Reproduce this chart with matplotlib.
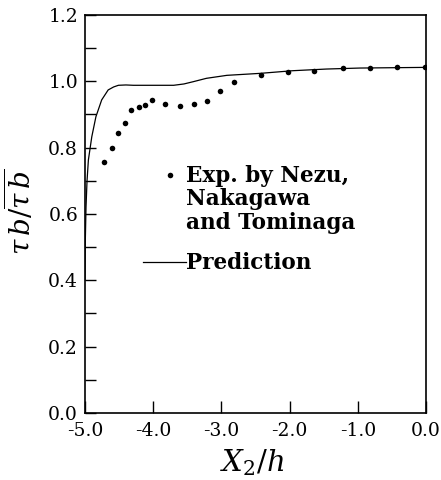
import matplotlib
matplotlib.use("Agg")
import matplotlib.pyplot as plt

plt.rcParams['font.family'] = ['DejaVu Serif']
plt.rcParams['mathtext.fontset'] = 'dejavuserif'

# Experimental data (Nezu, Nakagawa and Tominaga)
exp_x = [-4.717, -4.609, -4.516, -4.418, -4.321, -4.213, -4.116, -4.018,
         -3.822, -3.607, -3.406, -3.216, -3.02, -2.82, -2.424, -2.028,
         -1.638, -1.22, -0.825, -0.425, -0.01]
exp_y = [0.758, 0.798, 0.845, 0.874, 0.913, 0.922, 0.929, 0.944,
         0.932, 0.926, 0.931, 0.941, 0.970, 0.997, 1.018, 1.029,
         1.030, 1.039, 1.041, 1.043, 1.042]

# Prediction curve
pred_x = [-5.0, -4.995, -4.985, -4.97, -4.95, -4.90, -4.84, -4.755, -4.66,
          -4.58, -4.51, -4.40, -4.29, -4.10, -3.90, -3.70, -3.55, -3.41,
          -3.22, -2.92, -2.43, -1.95, -1.46, -0.97, -0.5, 0.0]
pred_y = [0.40, 0.52, 0.62, 0.70, 0.763, 0.833, 0.893, 0.944, 0.974,
          0.983, 0.988, 0.989, 0.988, 0.988, 0.988, 0.988, 0.992, 0.999,
          1.009, 1.018, 1.024, 1.032, 1.037, 1.040, 1.041, 1.042]

x_ticks = [-5.0, -4.0, -3.0, -2.0, -1.0, 0.0]
x_labels = ['-5.0', '-4.0', '-3.0', '-2.0', '-1.0', '0.0']
y_ticks = [0.0, 0.2, 0.4, 0.6, 0.8, 1.0, 1.2]
y_labels = ['0.0', '0.2', '0.4', '0.6', '0.8', '1.0', '1.2']
y_minor = [0.1, 0.3, 0.5, 0.7, 0.9, 1.1]

legend_exp = ['Exp. by Nezu,', 'Nakagawa', 'and Tominaga']
legend_pred = 'Prediction'

fig = plt.figure(figsize=(4.41, 4.80), dpi=100)
ax = fig.add_axes([0.1927, 0.1396, 0.7733, 0.8292])

ax.plot(pred_x, pred_y, color='black', lw=0.9)
ax.plot(exp_x, exp_y, 'o', color='black', ms=4.0, mec='none')

ax.set_xlim(-5.0, 0.0)
ax.set_ylim(0.0, 1.2)
ax.set_xticks(x_ticks)
ax.set_xticklabels(x_labels)
ax.set_yticks(y_ticks)
ax.set_yticklabels(y_labels)
ax.set_yticks(y_minor, minor=True)
ax.tick_params(axis='both', which='both', direction='in', labelsize=13.5,
               width=1.0, colors='black')
ax.tick_params(axis='y', which='both', length=8)
ax.tick_params(axis='x', which='major', length=9)
ax.tick_params(axis='x', pad=6.5)
ax.tick_params(axis='y', pad=5)
for s in ax.spines.values():
    s.set_linewidth(1.2)

ax.set_xlabel(r'$X_2/h$', fontsize=21)
ax.xaxis.set_label_coords(0.49, -0.085, transform=ax.transAxes)
ax.xaxis.label.set_va('top')
ax.set_ylabel(r'$\tau\,b/\overline{\tau\,b}$', fontsize=20)
ax.yaxis.set_label_coords(-0.19, 0.505)
ax.yaxis.label.set_va('center')

# Manual legend
ax.plot([0.249], [0.598], 'o', color='black', ms=4.0, mec='none',
        transform=ax.transAxes, clip_on=False)
for txt, yy in zip(legend_exp, [0.580, 0.522, 0.462]):
    ax.text(0.297, yy, txt, transform=ax.transAxes, fontsize=15.5,
            fontweight='bold', va='baseline', ha='left')
ax.plot([0.169, 0.295], [0.379, 0.379], color='black', lw=0.9,
        transform=ax.transAxes)
ax.text(0.297, 0.362, legend_pred, transform=ax.transAxes, fontsize=15.5,
        fontweight='bold', va='baseline', ha='left')

fig.savefig('out.png', dpi=100)
